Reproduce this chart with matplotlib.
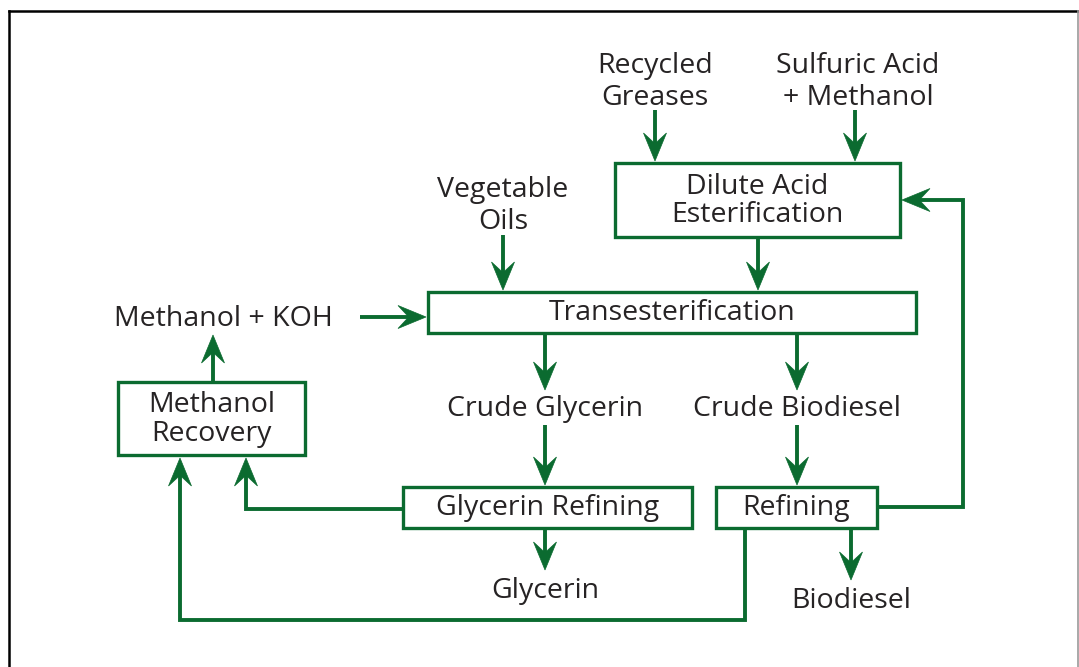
import numpy as np
from matplotlib import pyplot as plt
from matplotlib.patches import Rectangle, Polygon

# node texts
box_labels = ['Dilute Acid\nEsterification', 'Transesterification', 'Methanol\nRecovery',
              'Glycerin Refining', 'Refining']
free_labels = ['Recycled\nGreases', 'Sulfuric Acid\n+ Methanol', 'Vegetable\nOils',
               'Methanol + KOH', 'Crude Glycerin', 'Crude Biodiesel', 'Glycerin', 'Biodiesel']

# layout (pixel coords, y down)
box_pos = [(615, 163, 900, 237), (428, 292, 916, 333), (118, 382, 305, 455),
           (403, 487, 692, 528), (716, 487, 877, 528)]
free_pos = [(655, 82), (858, 82), (503, 206), (223, 319), (545, 409), (797, 409),
            (545, 591), (851, 601)]

# arrows as polylines, head at last point
arrow_paths = [
    [(655, 110), (655, 161)],
    [(855, 110), (855, 161)],
    [(503, 235), (503, 290)],
    [(758, 237), (758, 290)],
    [(360, 317), (426, 317)],
    [(213, 382), (213, 335)],
    [(545, 333), (545, 390)],
    [(797, 333), (797, 390)],
    [(545, 425), (545, 485)],
    [(797, 425), (797, 485)],
    [(545, 528), (545, 570)],
    [(851, 528), (851, 580)],
    [(877, 507), (963, 507), (963, 200), (902, 200)],
    [(403, 509), (246, 509), (246, 458)],
    [(745, 528), (745, 620), (180, 620), (180, 458)],
]

green = '#0b6b30'
txt_col = '#262324'
font = 'Open Sans'
fs = 20.5

fig = plt.figure(figsize=(10.79, 6.67), dpi=100)
ax = fig.add_axes([0, 0, 1, 1])
ax.set_xlim(0, 1079)
ax.set_ylim(667, 0)
ax.axis('off')

# outer frame
ax.plot([9, 9], [667, 11], color='black', lw=1.8)
ax.plot([9, 1079], [11, 11], color='black', lw=1.8)
ax.plot([1077.5, 1077.5], [11, 667], color='#999999', lw=1.2)


def head(ax, p0, p1, L=28, W=23):
    d = np.array(p1, float) - np.array(p0, float)
    d = d / np.linalg.norm(d)
    n = np.array([-d[1], d[0]])
    tip = np.array(p1, float)
    back = tip - d * L
    notch = tip - d * L * 0.62
    pts = [tip, back + n * W / 2, notch, back - n * W / 2]
    ax.add_patch(Polygon(pts, closed=True, facecolor=green, edgecolor=green, lw=0.5, zorder=4))
    return notch


for path in arrow_paths:
    notch = head(ax, path[-2], path[-1])
    xs = [p[0] for p in path[:-1]] + [notch[0]]
    ys = [p[1] for p in path[:-1]] + [notch[1]]
    ax.plot(xs, ys, color=green, lw=2.8, solid_joinstyle='miter', solid_capstyle='butt', zorder=3)

for lab, (x0, y0, x1, y1) in zip(box_labels, box_pos):
    ax.add_patch(Rectangle((x0, y0), x1 - x0, y1 - y0, facecolor='white', edgecolor=green,
                           lw=2.4, zorder=5))
    ax.text((x0 + x1) / 2, (y0 + y1) / 2 + 1, lab, ha='center', va='center', fontsize=fs,
            family=font, color=txt_col, linespacing=1.0, zorder=6)

for lab, (x, y) in zip(free_labels, free_pos):
    ax.text(x, y, lab, ha='center', va='center', fontsize=fs, family=font, color=txt_col,
            linespacing=1.15, zorder=6)

fig.savefig('out.png', dpi=100)
